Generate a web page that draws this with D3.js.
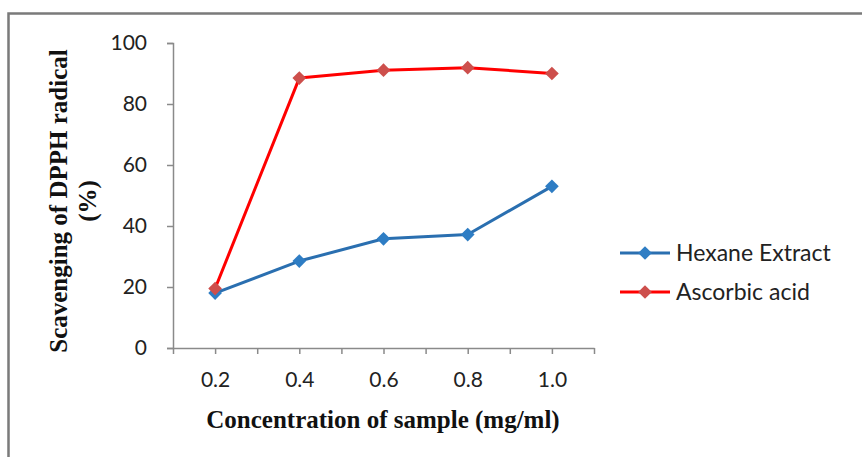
<!DOCTYPE html>
<html>
<head>
<meta charset="utf-8">
<script src="https://cdn.jsdelivr.net/npm/d3@7"></script>
<style>
  body { margin: 0; background: #fff; }
  svg { display: block; }
</style>
</head>
<body>
<div id="chart"></div>
<script>
// Concentration (mg/ml)
const concentrations = [0.2, 0.4, 0.6, 0.8, 1.0];
// DPPH scavenging (%)
const hexane = [18.0, 28.5, 35.8, 37.2, 53.0];
const ascorbic = [19.5, 88.5, 91.1, 91.9, 90.0];
const yTicks = [0, 20, 40, 60, 80, 100];
const seriesNames = ["Hexane Extract", "Ascorbic acid"];

const width = 862;
const height = 457;

const svg = d3.select("#chart")
    .append("svg")
    .attr("width", width)
    .attr("height", height);

// outer frame
svg.append("rect")
    .attr("x", 8.5)
    .attr("y", 13.5)
    .attr("width", width)
    .attr("height", height)
    .attr("fill", "none")
    .attr("stroke", "#7a7a7a")
    .attr("stroke-width", 2.5);

const x = d3.scaleLinear()
    .domain([0.1, 1.1])
    .range([173, 594]);

const y = d3.scaleLinear()
    .domain([0, 100])
    .range([348, 43]);

const axisColor = "#8a8a8a";
const labelFont = "Lato, 'Liberation Sans', sans-serif";
const titleFont = "'Liberation Serif', 'Times New Roman', serif";

// y axis
const yAxis = svg.append("g")
    .attr("transform", `translate(${x(0.1)},0)`)
    .call(d3.axisLeft(y).tickValues(yTicks).tickSize(6).tickPadding(20));
yAxis.select(".domain").attr("stroke", axisColor).attr("stroke-width", 1.5);
yAxis.selectAll(".tick line").attr("stroke", axisColor).attr("stroke-width", 1.5);
yAxis.selectAll(".tick text")
    .attr("font-family", labelFont)
    .attr("font-size", 21)
    .attr("fill", "#222");

// x axis: ticks every 0.1, labels every 0.2
const xAxis = svg.append("g")
    .attr("transform", `translate(0,${y(0)})`)
    .call(d3.axisBottom(x)
        .tickValues(d3.range(11).map(i => 0.1 + i * 0.1))
        .tickSize(6)
        .tickSizeOuter(0)
        .tickPadding(18)
        .tickFormat(d => concentrations.some(c => Math.abs(c - d) < 1e-6) ? d3.format(".1f")(d) : ""));
xAxis.select(".domain").attr("stroke", axisColor).attr("stroke-width", 1.5);
xAxis.selectAll(".tick line").attr("stroke", axisColor).attr("stroke-width", 1.5);
xAxis.selectAll(".tick text")
    .attr("font-family", labelFont)
    .attr("font-size", 21)
    .attr("fill", "#222");

// axis titles
svg.append("text")
    .attr("x", 383)
    .attr("y", 428)
    .attr("text-anchor", "middle")
    .attr("font-family", titleFont)
    .attr("font-weight", "bold")
    .attr("font-size", 25)
    .attr("fill", "#111")
    .text("Concentration of sample (mg/ml)");

const yTitle = svg.append("text")
    .attr("transform", "translate(67,201) rotate(-90)")
    .attr("text-anchor", "middle")
    .attr("font-family", titleFont)
    .attr("font-weight", "bold")
    .attr("font-size", 25)
    .attr("fill", "#111");
yTitle.append("tspan").attr("x", 0).attr("dy", 0).text("Scavenging of DPPH radical");
yTitle.append("tspan").attr("x", 0).attr("dy", 29).text("(%)");

// series
const series = [
    { name: seriesNames[0], values: hexane, line: "#2a6fb0", marker: "#2e7dc4" },
    { name: seriesNames[1], values: ascorbic, line: "#ff0000", marker: "#cd4f4c" }
];

const line = d3.line()
    .x((d, i) => x(concentrations[i]))
    .y(d => y(d));

const diamond = d3.symbol().type(d3.symbolDiamond2).size(120);

series.forEach(s => {
    svg.append("path")
        .datum(s.values)
        .attr("d", line)
        .attr("fill", "none")
        .attr("stroke", s.line)
        .attr("stroke-width", 3)
        .attr("stroke-linejoin", "round");
});

series.forEach(s => {
    svg.selectAll(null)
        .data(s.values)
        .join("path")
        .attr("d", diamond)
        .attr("transform", (d, i) => `translate(${x(concentrations[i])},${y(d)})`)
        .attr("fill", s.marker);
});

// legend
const legend = svg.append("g").attr("transform", "translate(620,253)");
series.forEach((s, i) => {
    const g = legend.append("g").attr("transform", `translate(0,${i * 39})`);
    g.append("line")
        .attr("x1", 0).attr("x2", 50)
        .attr("stroke", s.line)
        .attr("stroke-width", 3);
    g.append("path")
        .attr("d", diamond)
        .attr("transform", "translate(25,0)")
        .attr("fill", s.marker);
    g.append("text")
        .attr("x", 56)
        .attr("dy", "0.35em")
        .attr("font-family", labelFont)
        .attr("font-size", 23)
        .attr("fill", "#222")
        .text(s.name);
});
</script>
</body>
</html>
